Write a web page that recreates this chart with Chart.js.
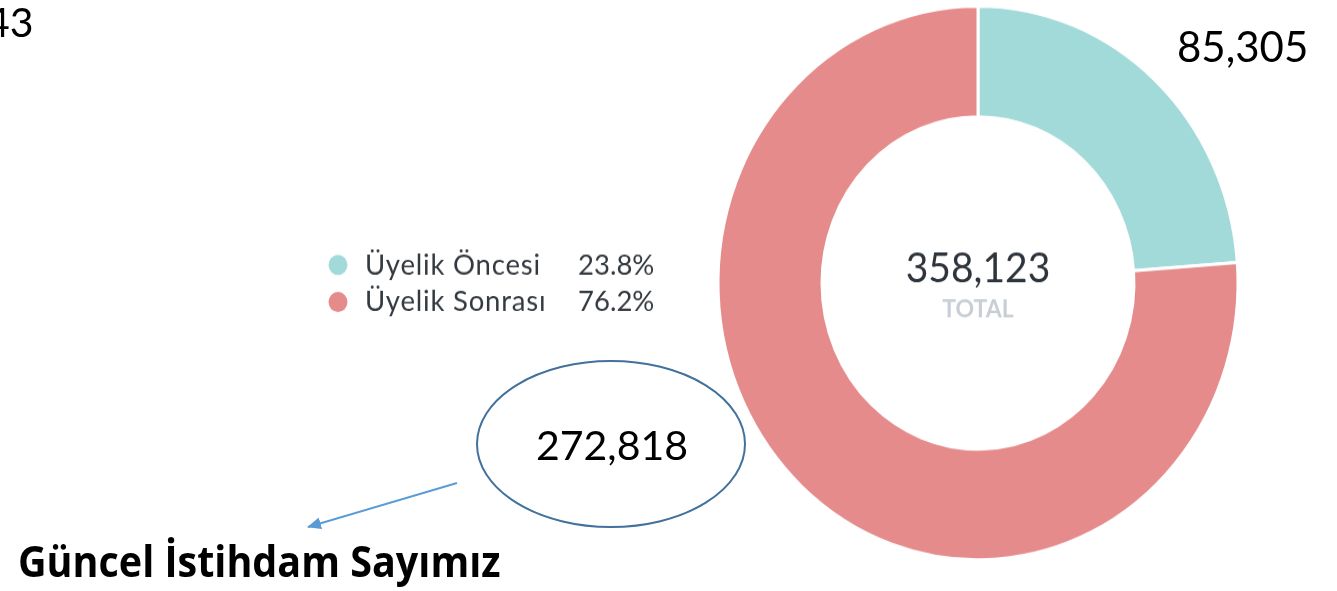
<!DOCTYPE html>
<html>
<head>
<meta charset="utf-8">
<script src="https://cdn.jsdelivr.net/npm/chart.js@4.4.1/dist/chart.umd.min.js"></script>
<style>
  html, body { margin: 0; padding: 0; background: #fff; }
  body { width: 1337px; height: 591px; position: relative; overflow: hidden; }
  #donut { position: absolute; left: 0; top: 0; width: 1337px; height: 591px; }
  .note { position: absolute; font-family: Lato, sans-serif; font-size: 41px; line-height: 1; color: #000; white-space: nowrap; }
  #caption { font-weight: bold; font-family: "Open Sans", sans-serif; font-size: 39.5px; transform-origin: left top; transform: scaleY(1.08); }
  svg { position: absolute; left: 0; top: 0; }
</style>
</head>
<body>
<canvas id="donut" width="1337" height="555" style="width:1337px;height:591px"></canvas>
<svg width="1337" height="591">
  <defs>
    <marker id="head" markerWidth="14" markerHeight="12" refX="13" refY="6" orient="auto" markerUnits="userSpaceOnUse">
      <path d="M0,0 L14,6 L0,12 z" fill="#5b9bd5"></path>
    </marker>
  </defs>
  <ellipse cx="611" cy="444" rx="134" ry="83" fill="none" stroke="#41719c" stroke-width="2"></ellipse>
  <line x1="457" y1="483" x2="308" y2="527" stroke="#5b9bd5" stroke-width="2" marker-end="url(#head)"></line>
</svg>
<div class="note" id="cut" style="left:-14px;top:1px"></div>
<div class="note" id="firstVal" style="left:1177px;top:25px;font-size:42px"></div>
<div class="note" id="secondVal" style="left:536px;top:424px"></div>
<div class="note" id="caption" style="left:18px;top:540px"></div>

<script>
const labels = ["Üyelik Öncesi", "Üyelik Sonrası"];
const values = [85305, 272818];
const colors = ["#a2dada", "#e58b8b"];
const centerCaption = "TOTAL";
const cutOffNumber = "43";
const captionText = "Güncel İstihdam Sayımız";

// the screenshot is a bit taller than wide, canvas is stretched in css
const stretch = 591 / 555;

const total = values.reduce((a, b) => a + b, 0);
const fmt = (n) => n.toLocaleString("en-US");

document.getElementById("cut").textContent = cutOffNumber;
document.getElementById("firstVal").textContent = fmt(values[0]);
document.getElementById("secondVal").textContent = fmt(values[1]);
document.getElementById("caption").textContent = captionText;

const donutExtras = {
  id: "donutExtras",
  afterDraw(chart) {
    const ctx = chart.ctx;
    const arc = chart.getDatasetMeta(0).data[0];
    const cx = arc.x;
    const cy = arc.y;

    ctx.save();
    ctx.textAlign = "center";
    ctx.textBaseline = "middle";
    ctx.fillStyle = "#2e343b";
    ctx.font = "39px Lato";
    ctx.fillText(fmt(total), cx, cy - 13);
    ctx.fillStyle = "#c8ced5";
    ctx.font = "bold 23px Lato";
    ctx.fillText(centerCaption, cx, cy + 25);

    // legend on the left
    ctx.textAlign = "left";
    for (let i = 0; i < labels.length; i++) {
      let y = (265 + i * 37) / stretch;
      ctx.fillStyle = colors[i];
      ctx.beginPath();
      ctx.arc(338, y, 9.5, 0, Math.PI * 2);
      ctx.fill();
      ctx.fillStyle = "#33393f";
      ctx.font = "27.5px Lato";
      ctx.letterSpacing = "0.8px";
      ctx.fillText(labels[i], 365, y);
      ctx.letterSpacing = "0px";
      ctx.fillText((values[i] / total * 100).toFixed(1) + "%", 578, y);
    }
    ctx.restore();
  },
};

let donutChart = new Chart(document.getElementById("donut"), {
  type: "doughnut",
  data: {
    labels: labels,
    datasets: [
      {
        data: values,
        backgroundColor: colors,
        borderColor: "#ffffff",
        borderWidth: 3,
        hoverBorderWidth: 3,
      },
    ],
  },
  options: {
    responsive: false,
    animation: false,
    cutout: "60%",
    layout: {
      padding: { left: 716.5, top: 4.2, right: 97.5, bottom: 27.8 },
    },
    plugins: {
      legend: { display: false },
      tooltip: { enabled: false },
    },
  },
  plugins: [donutExtras],
});
</script>
</body>
</html>
